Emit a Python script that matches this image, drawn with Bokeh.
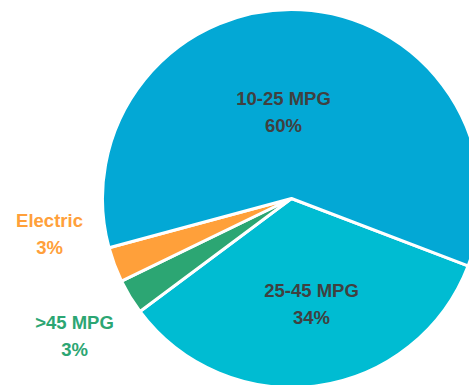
import math
from bokeh.plotting import figure
from bokeh.models import Range1d, ColumnDataSource
from bokeh.core.properties import value
from bokeh.embed import file_html
from bokeh.resources import INLINE

# data
categories = ["25-45 MPG", ">45 MPG", "Electric", "10-25 MPG"]
shares = [34, 3, 3, 60]
colors = ["#00BCD2", "#2CA673", "#FFA03A", "#03A8D5"]
label_colors = ["#404040", "#2CA673", "#FFA03A", "#404040"]

# layout (screen pixels)
W, H = 469, 385
cx, cy = 291, H - 198
R = 189
start_deg = -20.9
label_xy = [(311, 303), (74, 335), (49, 233), (283, 111)]

total = float(sum(shares))
starts, ends = [], []
cum = 0.0
for s in shares:
    a0 = math.radians(start_deg) - 2 * math.pi * cum / total
    cum += s
    a1 = math.radians(start_deg) - 2 * math.pi * cum / total
    starts.append(a0)
    ends.append(a1)

src = ColumnDataSource(dict(cat=categories, share=shares, color=colors,
                            start=starts, end=ends,
                            x=[cx] * 4, y=[cy] * 4))

p = figure(width=W, height=H, x_range=Range1d(0, W), y_range=Range1d(0, H),
           output_backend="svg", toolbar_location=None, min_border=0)
p.axis.visible = False
p.grid.visible = False
p.outline_line_color = None
p.background_fill_color = "white"

p.wedge(x="x", y="y", radius=R, start_angle="start", end_angle="end",
        direction="clock", fill_color="color", line_color="white",
        line_width=3, source=src)

lsrc = ColumnDataSource(dict(
    x=[xy[0] for xy in label_xy],
    y1=[H - xy[1] + 13 for xy in label_xy],
    y2=[H - xy[1] - 14 for xy in label_xy],
    name=categories,
    pct=[f"{s}%" for s in shares],
    color=label_colors))

for ycol, tcol in (("y1", "name"), ("y2", "pct")):
    p.text(x="x", y=ycol, text=tcol, source=lsrc, text_color="color",
           text_font=value("Liberation Sans"), text_font_style="bold",
           text_font_size="18.5px", text_align="center",
           text_baseline="middle")

open("out.html", "w").write(file_html(p, INLINE))
